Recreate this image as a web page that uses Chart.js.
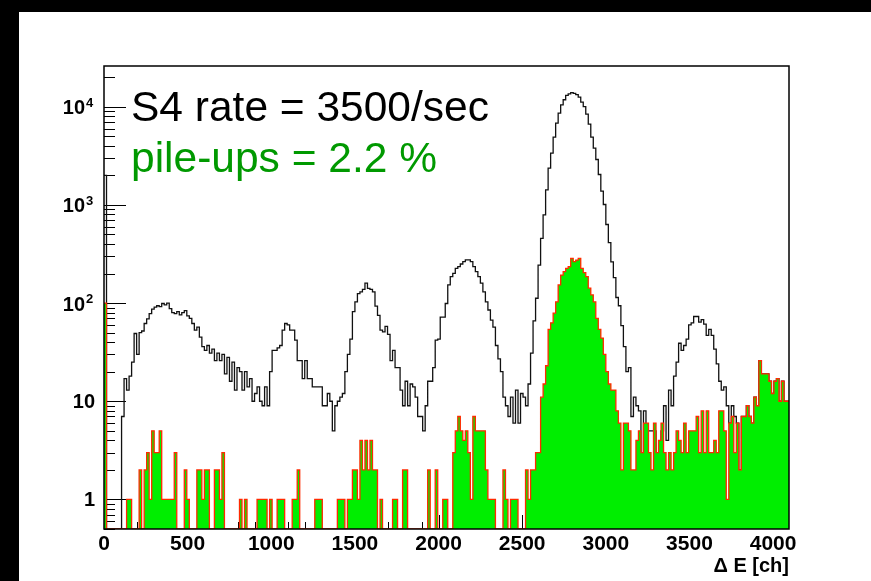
<!DOCTYPE html>
<html>
<head>
<meta charset="utf-8">
<script src="https://cdn.jsdelivr.net/npm/chart.js@4.4.0/dist/chart.umd.min.js"></script>
<style>
  html, body { margin: 0; padding: 0; background: #fff; }
  canvas { display: block; }
</style>
</head>
<body>
<canvas id="dEChart" width="871" height="581"></canvas>
<script>
// ----- Data (one value per 15-channel bin, 0..4095) -----
const BIN_WIDTH = 15;
const X_MAX = 4095;
const Y_MIN = 0.5;
const Y_MAX = 26000;

const xTickValues = [0, 500, 1000, 1500, 2000, 2500, 3000, 3500, 4000];
const yDecades = [1, 10, 100, 1000, 10000];

// all events (black line)
const totalCounts = [
  2000, 0, 0, 0, 0, 0, 0, 7, 17, 13,
  18, 25, 49, 30, 50, 52, 62, 69, 78, 87,
  91, 94, 92, 99, 96, 100, 88, 80, 78, 82,
  76, 80, 84, 74, 70, 62, 53, 57, 45, 36,
  33, 37, 31, 34, 26, 31, 26, 30, 19, 28,
  16, 25, 13, 22, 20, 13, 20, 14, 17, 10,
  12, 14, 10, 9, 14, 9, 20, 33, 33, 35,
  37, 53, 62, 60, 53, 53, 42, 26, 26, 17,
  26, 17, 17, 14, 14, 14, 14, 9, 9, 12,
  10, 5, 9, 10, 11, 12, 20, 30, 43, 82,
  103, 125, 130, 138, 160, 141, 138, 130, 93, 75,
  53, 51, 58, 48, 26, 33, 22, 22, 13, 9,
  16, 9, 15, 14, 11, 7, 7, 5, 9, 16,
  16, 22, 42, 43, 72, 72, 99, 153, 186, 201,
  226, 235, 250, 264, 275, 275, 264, 235, 209, 186,
  160, 130, 103, 85, 67, 57, 37, 27, 20, 11,
  9, 7, 11, 6, 13, 6, 12, 11, 9, 15,
  31, 66, 112, 244, 457, 791, 1422, 2366, 3366, 4900,
  6800, 8600, 10470, 11780, 13050, 13550, 13900, 13700, 13260, 12550,
  11150, 10020, 8410, 6640, 4900, 3790, 2900, 2040, 1380, 1010,
  632, 412, 263, 182, 114, 94, 59, 36, 20, 22,
  7, 11, 9, 8, 3, 8, 5, 5, 5, 5,
  3, 3, 5, 9, 4, 13, 9, 18, 25, 39,
  33, 37, 43, 60, 63, 73, 73, 64, 68, 61,
  47, 54, 47, 34, 24, 16, 13, 14, 9, 6,
  9, 7, 6, 2, 7, 7, 9, 7, 6, 11,
  9, 26, 19, 19, 19, 16, 12, 16, 17, 10,
  16, 10, 10
];

// pile-up events (green fill)
const pileupCounts = [
  100, 0, 0, 0, 0, 0, 0, 0, 0, 1,
  1, 0, 0, 0, 2, 0, 2, 3, 1, 5,
  3, 3, 5, 1, 1, 1, 1, 1, 3, 0,
  0, 0, 2, 1, 0, 0, 0, 2, 2, 1,
  2, 2, 0, 0, 2, 2, 1, 3, 0, 0,
  0, 0, 0, 0, 1, 0, 1, 0, 0, 0,
  0, 1, 1, 1, 1, 0, 1, 0, 0, 1,
  1, 1, 0, 0, 0, 1, 1, 2, 0, 0,
  0, 0, 0, 0, 1, 1, 1, 0, 0, 0,
  0, 0, 0, 1, 1, 1, 0, 1, 1, 2,
  2, 1, 4, 2, 4, 2, 4, 2, 2, 0,
  1, 0, 0, 0, 0, 1, 1, 0, 0, 2,
  2, 0, 0, 0, 0, 0, 0, 0, 0, 2,
  0, 0, 2, 0, 0, 1, 1, 0, 0, 3,
  5, 7, 5, 4, 5, 3, 1, 7, 5, 5,
  5, 5, 2, 1, 1, 1, 0, 0, 0, 2,
  1, 0, 1, 1, 1, 0, 0, 0, 2, 1,
  2, 2, 3, 3, 11, 15, 23, 54, 63, 79,
  103, 153, 193, 209, 226, 235, 285, 264, 274, 285,
  226, 204, 186, 142, 121, 103, 70, 54, 44, 30,
  20, 15, 13, 13, 8, 6, 2, 6, 6, 5,
  2, 2, 4, 5, 3, 6, 6, 3, 2, 6,
  3, 4, 6, 3, 2, 3, 2, 3, 5, 4,
  3, 6, 3, 5, 5, 5, 7, 3, 8, 3,
  8, 3, 3, 4, 3, 8, 8, 5, 1, 6,
  7, 3, 6, 2, 7, 7, 9, 7, 6, 11,
  9, 26, 19, 19, 19, 16, 12, 16, 17, 10,
  16, 10, 10
];

const FONT = "'Liberation Sans', Arial, Helvetica, sans-serif";

// ----- Build step points (bin low edges + closing edge) -----
function toSteps(counts) {
  const pts = counts.map((c, i) => ({ x: i * BIN_WIDTH, y: c > 0 ? c : Y_MIN }));
  pts.push({ x: counts.length * BIN_WIDTH, y: pts[pts.length - 1].y });
  return pts;
}

// ----- Page background with black edges -----
const pageBackground = {
  id: "pageBackground",
  beforeDraw(chart) {
    const ctx = chart.ctx;
    ctx.save();
    ctx.fillStyle = "#fff";
    ctx.fillRect(0, 0, chart.width, chart.height);
    ctx.fillStyle = "#000";
    ctx.fillRect(0, 0, chart.width, 12);
    ctx.fillRect(0, 0, 19, chart.height);
    ctx.restore();
  }
};

// ----- ROOT style ticks (inside the frame) -----
const rootTicks = {
  id: "rootTicks",
  beforeDatasetsDraw(chart) {
    const { ctx, chartArea: a, scales } = chart;
    ctx.save();
    ctx.strokeStyle = "#000";
    ctx.lineWidth = 1;
    ctx.beginPath();
    for (let v = 0; v <= X_MAX; v += 100) {
      const px = Math.round(scales.x.getPixelForValue(v)) + 0.5;
      const len = v % 500 === 0 ? 14 : 7;
      ctx.moveTo(px, a.bottom);
      ctx.lineTo(px, a.bottom - len);
    }
    for (let d = 0.1; d <= 10000; d *= 10) {
      for (let k = 1; k <= 9; k++) {
        const v = k * d;
        if (v < Y_MIN || v > Y_MAX) continue;
        const py = Math.round(scales.y.getPixelForValue(v)) + 0.5;
        const len = k === 1 ? 22 : 11;
        ctx.moveTo(a.left, py);
        ctx.lineTo(a.left + len, py);
      }
    }
    ctx.stroke();
    ctx.restore();
  },
  afterDraw(chart) {
    const { ctx, chartArea: a, scales } = chart;
    ctx.save();
    ctx.strokeStyle = "#000";
    ctx.lineWidth = 1.5;
    ctx.strokeRect(a.left, a.top, a.right - a.left, a.bottom - a.top);

    // y labels: 1, 10, 10^2 ...
    ctx.fillStyle = "#000";
    yDecades.forEach(v => {
      const py = scales.y.getPixelForValue(v);
      const exp = Math.round(Math.log10(v));
      ctx.font = "bold 20px " + FONT;
      ctx.textBaseline = "middle";
      ctx.textAlign = "right";
      if (exp < 2) {
        ctx.fillText(String(v), a.left - 9, py + 1);
      } else {
        ctx.fillText("10", a.left - 19, py + 2);
        ctx.font = "bold 13px " + FONT;
        ctx.textAlign = "left";
        ctx.textBaseline = "alphabetic";
        ctx.fillText(String(exp), a.left - 18, py);
      }
    });

    // annotation text
    ctx.textAlign = "left";
    ctx.textBaseline = "alphabetic";
    ctx.font = "42.5px " + FONT;
    ctx.fillStyle = "#000";
    ctx.fillText("S4 rate = 3500/sec", 131, 121);
    ctx.fillStyle = "#009900";
    ctx.fillText("pile-ups = 2.2 %", 131, 172);
    ctx.restore();
  }
};

new Chart(document.getElementById("dEChart"), {
  type: "line",
  data: {
    datasets: [
      {
        label: "pile-ups",
        data: toSteps(pileupCounts),
        stepped: "before",
        borderColor: "#ff2a00",
        borderWidth: 1.3,
        backgroundColor: "#00ee00",
        fill: "start",
        pointRadius: 0
      },
      {
        label: "all",
        data: toSteps(totalCounts),
        stepped: "before",
        borderColor: "#111",
        borderWidth: 1.3,
        fill: false,
        pointRadius: 0
      }
    ]
  },
  options: {
    responsive: false,
    animation: false,
    devicePixelRatio: 1,
    layout: { padding: { left: 0, top: 66, right: 82, bottom: 0 } },
    plugins: {
      legend: { display: false },
      tooltip: { enabled: false }
    },
    scales: {
      x: {
        type: "linear",
        min: 0,
        max: X_MAX,
        grid: { display: false, drawTicks: false },
        border: { display: false },
        afterBuildTicks: s => { s.ticks = xTickValues.map(v => ({ value: v })); },
        afterFit: s => { s.height = 52; },
        ticks: {
          color: "#000",
          padding: 3,
          maxRotation: 0,
          autoSkip: false,
          font: { family: FONT, size: 21, weight: "bold" },
          callback: v => String(v)
        },
        title: {
          display: true,
          text: "Δ E [ch]",
          align: "end",
          color: "#000",
          padding: { top: 0, bottom: 3 },
          font: { family: FONT, size: 20, weight: "bold" }
        }
      },
      y: {
        type: "logarithmic",
        min: Y_MIN,
        max: Y_MAX,
        grid: { display: false, drawTicks: false },
        border: { display: false },
        ticks: { display: false },
        afterFit: s => { s.width = 104; }
      }
    }
  },
  plugins: [pageBackground, rootTicks]
});
</script>
</body>
</html>
